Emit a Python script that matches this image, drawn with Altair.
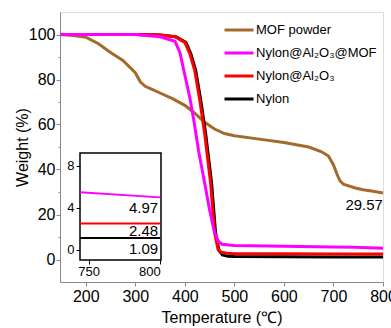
import altair as alt
import pandas as pd

names = ["MOF powder", "Nylon@Al₂O₃@MOF", "Nylon@Al₂O₃", "Nylon"]
colors = ["#A36A2C", "#FF00FF", "#FF0000", "#000000"]

mof_T = [148, 175, 200, 225, 250, 275, 300, 310, 320, 335, 350, 375, 400, 420, 440, 460, 480, 500, 550, 600, 650, 675, 690, 700, 707, 713, 720, 744, 760, 780, 800]
mof_W = [100, 99.5, 98.8, 96, 92, 88.5, 83, 79, 77, 75.5, 74, 71.5, 68.5, 65, 61, 58, 56, 55, 53.5, 52, 50, 48, 46, 42, 38, 35, 33.5, 31.8, 31, 30.3, 29.57]

mag_T = [148, 200, 300, 350, 380, 390, 400, 410, 418, 428, 440, 450, 460, 468, 475, 490, 500, 600, 700, 744, 800]
mag_W = [100, 100, 100, 99, 97, 92, 82, 72, 62, 48, 34, 22, 12, 8, 6.8, 6.4, 6.2, 5.9, 5.6, 5.45, 4.97]

red_T = [148, 200, 300, 350, 380, 400, 410, 420, 430, 440, 446, 452, 460, 467, 474, 485, 500, 600, 700, 744, 800]
red_W = [100, 100, 100, 99.8, 99, 96.5, 91.5, 84, 71, 56, 45, 34, 12, 4.5, 3.2, 2.8, 2.6, 2.55, 2.5, 2.48, 2.48]

blk_T = [148, 200, 300, 350, 382, 402, 412, 422, 432, 442, 448, 454, 462, 469, 476, 487, 500, 600, 700, 744, 800]
blk_W = [100, 100, 100, 99.8, 99, 96.5, 91.5, 84, 71, 56, 45, 34, 12, 4.0, 2.0, 1.4, 1.3, 1.2, 1.12, 1.09, 1.09]

series = [(names[0], mof_T, mof_W), (names[1], mag_T, mag_W),
          (names[2], red_T, red_W), (names[3], blk_T, blk_W)]

rows = []
for name, T, W in series:
    for i, (t, w) in enumerate(zip(T, W)):
        rows.append({"series": name, "T": t, "W": w, "i": i})
df = pd.DataFrame(rows)

inset_values = ["4.97", "2.48", "1.09"]
inset_label_y = [4.0, 1.75, 0.05]
inset_label_T = [798.5, 798.5, 798.5]

mof_end_label = ["29.57"]
mof_end_T = [762]
mof_end_W = [24.3]

FONT = "Liberation Sans"
color_scale = alt.Scale(domain=names, range=colors)

xscale = alt.Scale(domain=[148, 800], nice=False, zero=False)
yscale = alt.Scale(domain=[-10, 110], nice=False, zero=False)

x_axis = alt.Axis(values=list(range(200, 801, 100)), title="Temperature (℃)",
                  grid=False, tickSize=4, labelFontSize=16, titleFontSize=16,
                  titleFontWeight="normal", labelPadding=2, titlePadding=5,
                  labelFlush=False, labelColor="black", titleColor="black")
y_axis = alt.Axis(values=list(range(0, 101, 10)), title="Weight (%)",
                  labelExpr="datum.value % 20 === 0 ? datum.label : ''",
                  tickSize={"condition": {"test": "datum.value % 20 === 0", "value": 4}, "value": 2},
                  grid=False, labelFontSize=16, titleFontSize=16,
                  titleFontWeight="normal", labelPadding=1, titlePadding=-2,
                  labelColor="black", titleColor="black")

legend = alt.Legend(title=None, orient="none", legendX=163, legendY=2,
                    symbolType="stroke", symbolSize=841, symbolStrokeWidth=3,
                    labelFontSize=13, labelFont=FONT, labelColor="black", rowPadding=-10,
                    labelOffset=1, padding=0, labelLimit=300)

def line_layer(name, legend_obj):
    return alt.Chart(df).transform_filter(alt.datum.series == name).mark_line(strokeWidth=3).encode(
        x=alt.X("T:Q", scale=xscale, axis=x_axis),
        y=alt.Y("W:Q", scale=yscale, axis=y_axis),
        color=alt.Color("series:N", scale=color_scale, legend=legend_obj),
        order="i:Q",
    )

main_lines = [line_layer(names[0], legend), line_layer(names[3], legend),
              line_layer(names[2], legend), line_layer(names[1], legend)]

mof_text = alt.Chart(pd.DataFrame({"T": mof_end_T, "W": mof_end_W, "t": mof_end_label})).mark_text(
    fontSize=15, font=FONT, color="black", align="center", baseline="middle"
).encode(x=alt.X("T:Q", scale=xscale, axis=x_axis), y=alt.Y("W:Q", scale=yscale, axis=y_axis), text="t:N")

main = alt.layer(*main_lines, mof_text)

# inset
ix = alt.Scale(domain=[744, 800.5], range=[20, 101], nice=False, zero=False)
iy = alt.Scale(domain=[-1, 9.2], range=[248, 141], nice=False, zero=False)
ix_axis = alt.Axis(values=[750, 800], orient="bottom", offset=-22, title=None, grid=False,
                   tickSize=4, labelFontSize=13, labelPadding=1, domain=False, zindex=2,
                   labelColor="black", tickColor="black")
iy_axis = alt.Axis(values=[0, 4, 8], orient="left", offset=-20, title=None, grid=False,
                   tickSize=4, labelFontSize=13, labelPadding=2, domain=False, zindex=2,
                   labelColor="black", tickColor="black")

frame_df = pd.DataFrame({"a": [744], "b": [800.5], "c": [-1], "d": [9.2]})
inset_frame = alt.Chart(frame_df).mark_rect(fill="white", stroke="black", strokeWidth=1.5).encode(
    x=alt.X("a:Q", scale=ix, axis=ix_axis), x2="b:Q",
    y=alt.Y("c:Q", scale=iy, axis=iy_axis), y2="d:Q")

inset_df = df[(df["T"] >= 744) & (df["series"] != names[0])]
inset_lines = alt.Chart(inset_df).mark_line(strokeWidth=2).encode(
    x=alt.X("T:Q", scale=ix, axis=ix_axis),
    y=alt.Y("W:Q", scale=iy, axis=iy_axis),
    color=alt.Color("series:N", scale=color_scale, legend=None),
    order="i:Q",
)
inset_text = alt.Chart(pd.DataFrame({"T": inset_label_T, "W": inset_label_y, "t": inset_values})).mark_text(
    fontSize=15, font=FONT, color="black", align="right", baseline="middle"
).encode(x=alt.X("T:Q", scale=ix, axis=ix_axis), y=alt.Y("W:Q", scale=iy, axis=iy_axis), text="t:N")

inset = alt.layer(inset_frame, inset_lines, inset_text)

chart = alt.layer(main, inset).resolve_scale(x="independent", y="independent").properties(
    width=323, height=270,
    autosize=alt.AutoSizeParams(type="none"),
    padding={"left": 60, "top": 12, "right": 8, "bottom": 46},
).configure_view(stroke="black", strokeWidth=2).configure_axis(
    labelFont=FONT, titleFont=FONT, labelColor="black", titleColor="black",
    domainColor="black", domainWidth=2, tickColor="black", tickWidth=1.5
).configure(background="white")

chart.save("out.html", embed_options={"renderer": "svg", "actions": False})
